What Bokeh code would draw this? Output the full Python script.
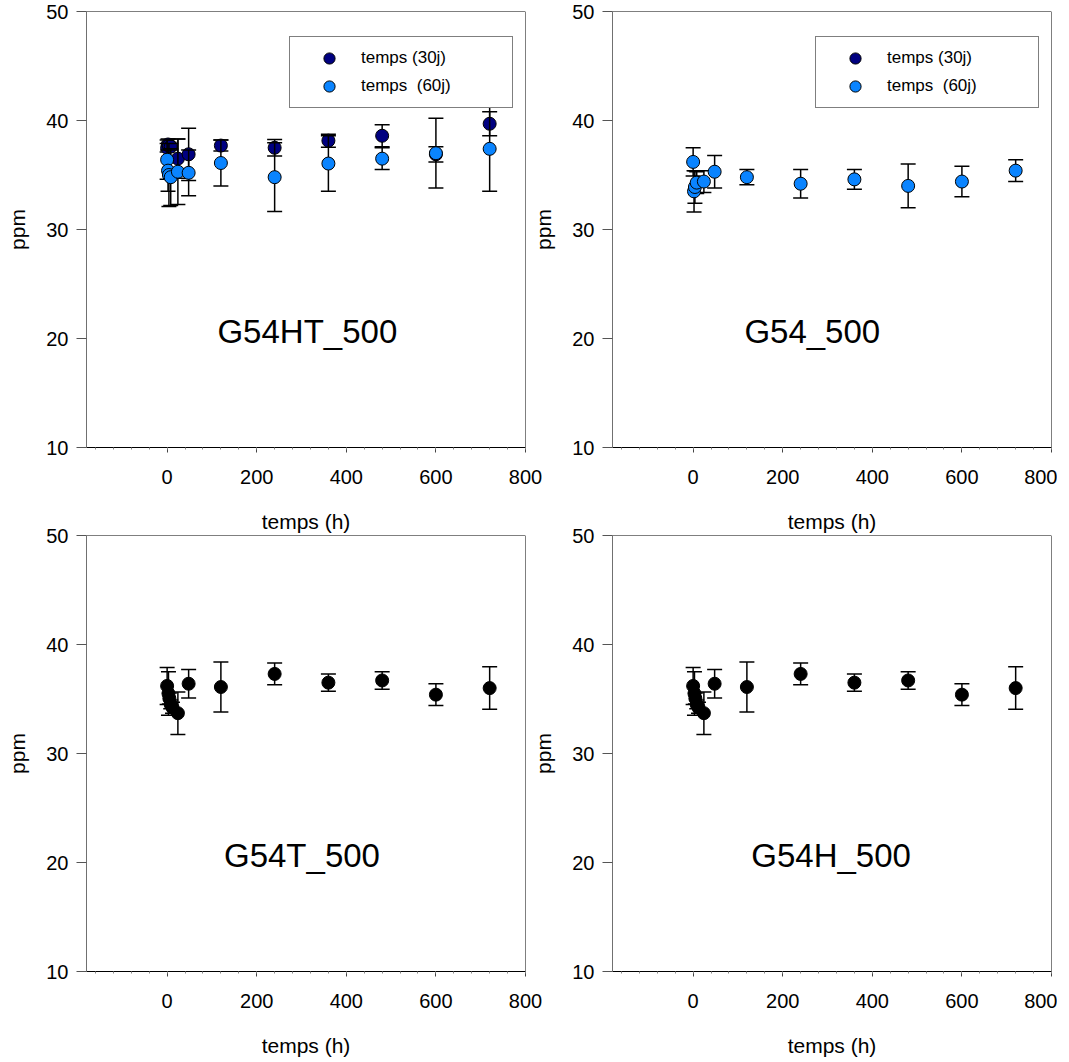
import math
from bokeh.plotting import figure
from bokeh.layouts import column, row
from bokeh.models import (ColumnDataSource, Span, Legend, LegendItem,
                          SingleIntervalTicker, FixedTicker, Range1d)
from bokeh.core.properties import value
from bokeh.embed import file_html
from bokeh.resources import INLINE

FONT = "Liberation Sans"
NAVY = "#000080"
LBLUE = "#0A84FF"
BLACK = "#000000"

# ---------------- data ----------------
panel_titles = ["G54HT_500", "G54_500", "G54T_500", "G54H_500"]
legend_labels = ["temps (30j)", "temps  (60j)"]
y_ticks = [10, 20, 30, 40, 50]

# G54HT_500
g54ht_30_t = [0, 2, 4, 8, 24, 48, 120, 240, 360, 480, 600, 720]
g54ht_30_y = [37.5, 37.8, 37.7, 37.6, 36.5, 36.9, 37.7, 37.5, 38.15, 38.6, 36.9, 39.7]
g54ht_30_e = [0.4, 0.5, 0.3, 0.3, 1.8, 2.4, 0.5, 0.75, 0.6, 1.0, 0.7, 1.1]
g54ht_60_t = [0, 2, 4, 8, 24, 48, 120, 240, 360, 480, 600, 720]
g54ht_60_y = [36.4, 35.4, 35.0, 34.8, 35.3, 35.2, 36.1, 34.8, 36.05, 36.5, 37.0, 37.4]
g54ht_60_e = [1.8, 1.9, 2.9, 2.6, 3.0, 2.1, 2.1, 3.15, 2.55, 1.0, 3.2, 3.9]

# G54_500 (only the 60j series is visible)
g54_60_t = [0, 2, 4, 8, 24, 48, 120, 240, 360, 480, 600, 720]
g54_60_y = [36.2, 33.5, 33.9, 34.3, 34.4, 35.3, 34.8, 34.2, 34.6, 34.0, 34.4, 35.4]
g54_60_e = [1.3, 1.9, 1.5, 1.0, 1.0, 1.5, 0.7, 1.3, 0.9, 2.0, 1.4, 1.0]

# G54T_500
g54t_t = [0, 3, 5, 8, 12, 24, 48, 120, 240, 360, 480, 600, 720]
g54t_y = [36.2, 35.5, 35.05, 34.5, 34.2, 33.7, 36.4, 36.1, 37.3, 36.5, 36.7, 35.4, 36.0]
g54t_e = [1.7, 2.0, 0.5, 0.4, 0.5, 1.95, 1.3, 2.3, 1.0, 0.8, 0.8, 1.0, 1.95]

# G54H_500
g54h_t = [0, 3, 5, 8, 12, 24, 48, 120, 240, 360, 480, 600, 720]
g54h_y = [36.2, 35.5, 35.05, 34.5, 34.2, 33.7, 36.4, 36.1, 37.3, 36.5, 36.7, 35.4, 36.0]
g54h_e = [1.7, 2.0, 0.5, 0.4, 0.5, 1.95, 1.3, 2.3, 1.0, 0.8, 0.8, 1.0, 1.95]

# panel title anchor (data coords)
title_pos = [(313, 20.6), (266, 20.6), (301, 20.6), (308, 20.6)]

FRAME_W = 439
FRAME_H = 436


def make_source(t, y, e):
    return ColumnDataSource(dict(x=t, y=y,
                                 lo=[a - b for a, b in zip(y, e)],
                                 hi=[a + b for a, b in zip(y, e)]))


def draw_series(p, t, y, e, color):
    src = make_source(t, y, e)
    p.segment(x0="x", y0="lo", x1="x", y1="hi", source=src,
              line_color=BLACK, line_width=1.5)
    p.scatter(x="x", y="hi", source=src, marker="dash", size=15,
              line_color=BLACK, line_width=1.5)
    p.scatter(x="x", y="lo", source=src, marker="dash", size=15,
              line_color=BLACK, line_width=1.5)
    r = p.scatter(x="x", y="y", source=src, marker="circle", size=13,
                  fill_color=color, line_color=BLACK, line_width=1)
    return r


def make_panel(title, tpos, top, bottom, right, margin, xlab_standoff):
    p = figure(width=86 + FRAME_W + right, height=top + FRAME_H + bottom,
               output_backend="svg", toolbar_location=None,
               x_range=Range1d(-180, 800), y_range=Range1d(10, 50),
               min_border_left=86, min_border_right=right,
               min_border_top=top, min_border_bottom=bottom,
               margin=margin)
    p.outline_line_color = None
    p.xgrid.visible = False
    p.ygrid.visible = False
    p.background_fill_color = "white"
    p.border_fill_alpha = 0

    xa = p.xaxis[0]
    xa.ticker = SingleIntervalTicker(interval=200, num_minor_ticks=5)
    xa.axis_line_color = BLACK
    xa.major_tick_out = 5
    xa.major_tick_in = 0
    xa.major_tick_line_color = "#444444"
    xa.minor_tick_out = 2
    xa.minor_tick_in = 0
    xa.minor_tick_line_color = "#888888"
    xa.major_label_text_font = FONT
    xa.major_label_text_font_size = "20px"
    xa.major_label_text_color = BLACK
    xa.major_label_standoff = 17
    xa.axis_label = "temps (h)"
    xa.axis_label_text_font = FONT
    xa.axis_label_text_font_size = "21px"
    xa.axis_label_text_font_style = "normal"
    xa.axis_label_text_color = BLACK
    xa.axis_label_standoff = xlab_standoff

    ya = p.yaxis[0]
    ya.ticker = FixedTicker(ticks=y_ticks)
    ya.axis_line_color = "#707070"
    ya.major_tick_out = 10
    ya.major_tick_in = 0
    ya.major_tick_line_color = "#555555"
    ya.minor_tick_line_color = None
    ya.major_label_text_font = FONT
    ya.major_label_text_font_size = "20px"
    ya.major_label_text_color = BLACK
    ya.major_label_standoff = 8
    ya.axis_label = "ppm"
    ya.axis_label_text_font = FONT
    ya.axis_label_text_font_size = "21px"
    ya.axis_label_text_font_style = "normal"
    ya.axis_label_text_color = BLACK
    ya.axis_label_standoff = 14

    p.add_layout(Span(location=50, dimension="width", line_color=BLACK, line_width=1))
    p.add_layout(Span(location=800, dimension="height", line_color=BLACK, line_width=1))

    p.text(x=[tpos[0]], y=[tpos[1]], text=[title], text_font=value(FONT),
           text_font_size="33px", text_align="center", text_baseline="middle",
           text_color=BLACK)
    return p


def add_legend(p, r30, r60):
    leg = Legend(items=[LegendItem(label=legend_labels[0], renderers=[r30]),
                        LegendItem(label=legend_labels[1], renderers=[r60])],
                 location=(203, 339),
                 border_line_color=BLACK, border_line_width=1,
                 background_fill_color="white", background_fill_alpha=1,
                 padding=7, spacing=0, glyph_width=64, glyph_height=28,
                 label_standoff=0, label_width=144, label_height=24,
                 label_text_font=FONT, label_text_font_size="17px",
                 label_text_color=BLACK, margin=0)
    p.add_layout(leg, "center")


# ---- panel 1: G54HT_500
p1 = make_panel(panel_titles[0], title_pos[0], 11, 96, 25, (0, 0, 0, 0), 23)
r1a = draw_series(p1, g54ht_30_t, g54ht_30_y, g54ht_30_e, NAVY)
r1b = draw_series(p1, g54ht_60_t, g54ht_60_y, g54ht_60_e, LBLUE)
add_legend(p1, r1a, r1b)

# ---- panel 2: G54_500
p2 = make_panel(panel_titles[1], title_pos[1], 11, 96, 6, (0, 0, 0, -24), 23)
nan = float("nan")
proxy = p2.scatter(x=[nan], y=[nan], marker="circle", size=13,
                   fill_color=NAVY, line_color=BLACK, line_width=1)
r2b = draw_series(p2, g54_60_t, g54_60_y, g54_60_e, LBLUE)
add_legend(p2, proxy, r2b)

# ---- panel 3: G54T_500
p3 = make_panel(panel_titles[2], title_pos[2], 14, 88, 25, (-22, 0, 0, 0), 23)
draw_series(p3, g54t_t, g54t_y, g54t_e, BLACK)

# ---- panel 4: G54H_500
p4 = make_panel(panel_titles[3], title_pos[3], 14, 88, 6, (-22, 0, 0, -24), 23)
draw_series(p4, g54h_t, g54h_y, g54h_e, BLACK)

layout = column(row(p1, p2, spacing=0), row(p3, p4, spacing=0), spacing=0)

open("out.html", "w").write(file_html(layout, INLINE))
